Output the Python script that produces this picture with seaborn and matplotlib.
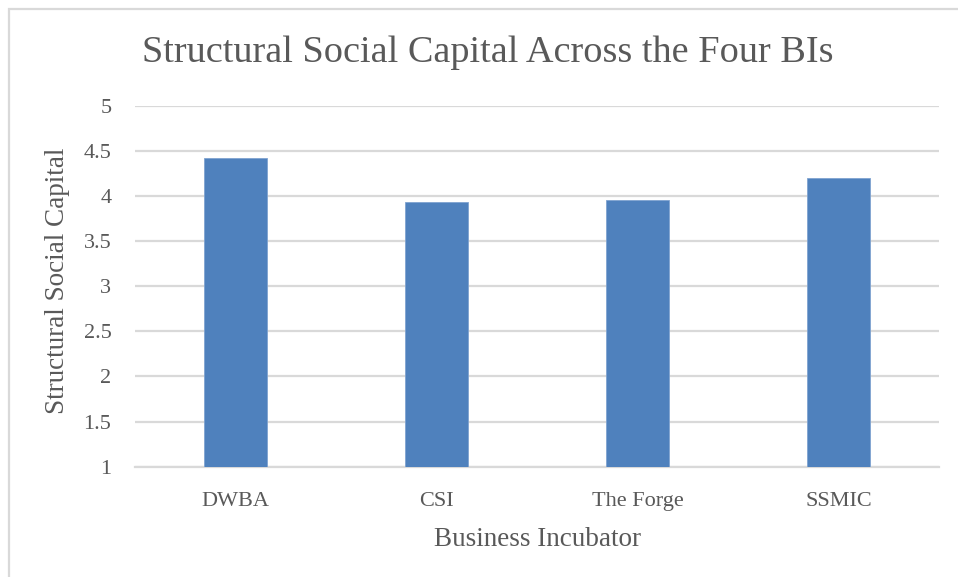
import matplotlib
matplotlib.use("Agg")
import matplotlib.pyplot as plt
from matplotlib.patches import Rectangle
import seaborn as sns
import pandas as pd

# Mean structural social capital score for each business incubator
incubators = ["DWBA", "CSI", "The Forge", "SSMIC"]
scores = [4.42, 3.93, 3.96, 4.20]
y_ticks = [1, 1.5, 2, 2.5, 3, 3.5, 4, 4.5, 5]
y_tick_labels = ["1", "1.5", "2", "2.5", "3", "3.5", "4", "4.5", "5"]

title_text = "Structural Social Capital Across the Four BIs"
x_label = "Business Incubator"
y_label = "Structural Social Capital"

df = pd.DataFrame({"incubator": incubators, "score": scores})

sns.set_theme(style="white")
plt.rcParams["font.family"] = ["Liberation Serif", "DejaVu Serif"]

text_color = "#595959"
grid_color = "#D9D9D9"
bar_color = "#4F81BD"

fig = plt.figure(figsize=(9.58, 5.77), dpi=100)
ax = fig.add_axes([135 / 958, 1 - 466.7 / 577, 804 / 958, 361 / 577])

sns.barplot(data=df, x="incubator", y="score", color=bar_color,
            width=0.31, saturation=1, ax=ax, zorder=3)
for p in ax.patches:
    p.set_edgecolor("#7FA3D0")
    p.set_linewidth(0.6)

ax.set_ylim(1, 5)
ax.set_yticks(y_ticks)
ax.set_yticklabels(y_tick_labels)
ax.yaxis.grid(True, color=grid_color, linewidth=1.6, zorder=0)
ax.set_axisbelow(True)
for side in ["top", "right", "left"]:
    ax.spines[side].set_visible(False)
ax.spines["bottom"].set_color(grid_color)
ax.spines["bottom"].set_linewidth(1.6)
ax.tick_params(axis="both", length=0, labelsize=16, colors=text_color)
ax.tick_params(axis="y", pad=17)
ax.tick_params(axis="x", pad=18)

ax.set_xlabel(x_label, fontsize=19.5, color=text_color, labelpad=12)
ax.set_ylabel(y_label, fontsize=19.5, color=text_color)
ax.yaxis.set_label_coords(-0.081, 0.514)

fig.text(488 / 958, 1 - 53 / 577, title_text, fontsize=27.5,
         color=text_color, ha="center", va="center")

# Light frame around the chart area
fig.patches.append(Rectangle((9 / 958, -0.1), 1.2, 1 - 9 / 577 + 0.1,
                             transform=fig.transFigure, fill=False,
                             edgecolor=grid_color, linewidth=1.6))

fig.savefig("out.png", dpi=100)
